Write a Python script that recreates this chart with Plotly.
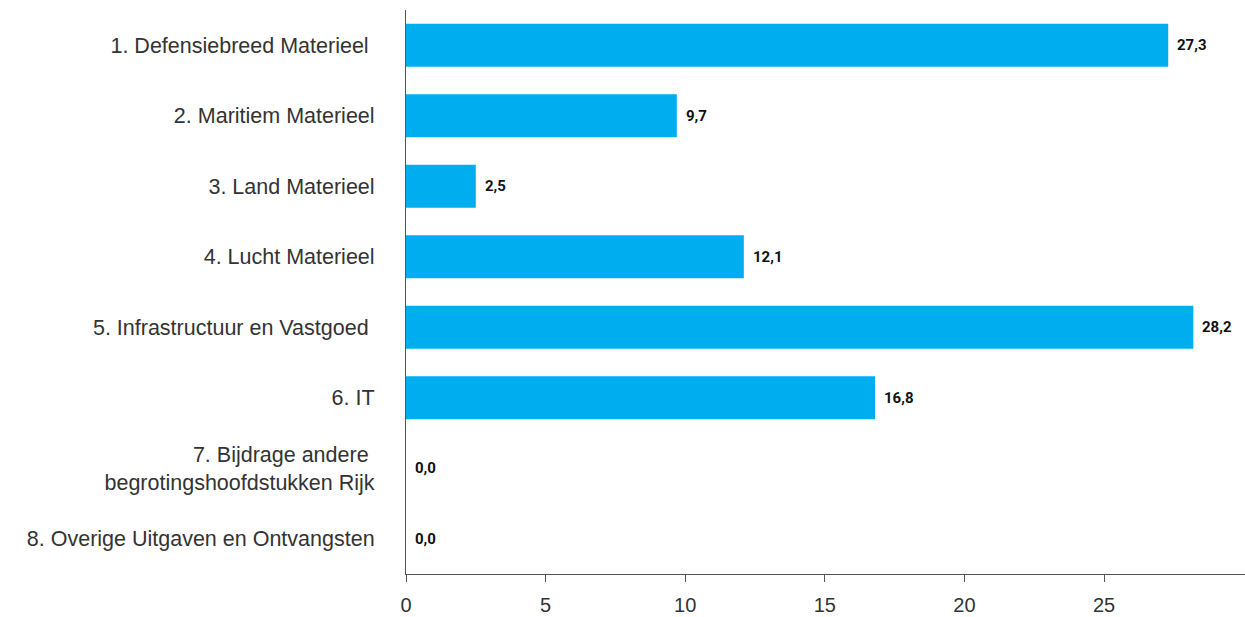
import plotly.graph_objects as go

categories = [
    "1. Defensiebreed Materieel ",
    "2. Maritiem Materieel",
    "3. Land Materieel",
    "4. Lucht Materieel",
    "5. Infrastructuur en Vastgoed ",
    "6. IT",
    "7. Bijdrage andere <br>begrotingshoofdstukken Rijk",
    "8. Overige Uitgaven en Ontvangsten",
]
values = [27.3, 9.7, 2.5, 12.1, 28.2, 16.8, 0.0, 0.0]
tick_vals = [0, 5, 10, 15, 20, 25]

labels = [f"{v:.1f}".replace(".", ",") for v in values]

fig = go.Figure()
fig.add_trace(go.Bar(
    x=values, y=categories, orientation="h",
    marker=dict(color="#00AEEF", line=dict(width=0)),
    hoverinfo="skip",
))

for v, c, t in zip(values, categories, labels):
    fig.add_annotation(x=v, y=c, text=f"<b>{t}</b>", showarrow=False,
                       xanchor="left", xshift=7,
                       font=dict(family="Roboto, Liberation Sans", size=15, color="#111"))

fig.update_layout(
    width=1245, height=617,
    margin=dict(l=406, r=0, t=10, b=43),
    plot_bgcolor="white", paper_bgcolor="white",
    bargap=0.39,
    separators=",.",
    showlegend=False,
    font=dict(family="Liberation Sans, Arial", color="#333"),
)
fig.update_xaxes(
    range=[0, 30.05], tickvals=tick_vals, ticktext=[str(t) for t in tick_vals],
    showgrid=False, zeroline=False,
    showline=True, linecolor="#555", linewidth=1.2,
    ticks="outside", ticklen=7, tickcolor="#555", tickwidth=1,
    ticklabelstandoff=6,
    tickfont=dict(size=20, color="#333"),
)
fig.update_yaxes(
    autorange="reversed", showgrid=False, zeroline=False,
    showline=True, linecolor="#555", linewidth=1.2,
    ticks="", ticklabelstandoff=26,
    tickfont=dict(size=21.5, color="#333"),
)

fig.write_html("out.html", config={"displayModeBar": False},
               post_script="document.body.style.margin='0';document.body.style.overflow='hidden';")
